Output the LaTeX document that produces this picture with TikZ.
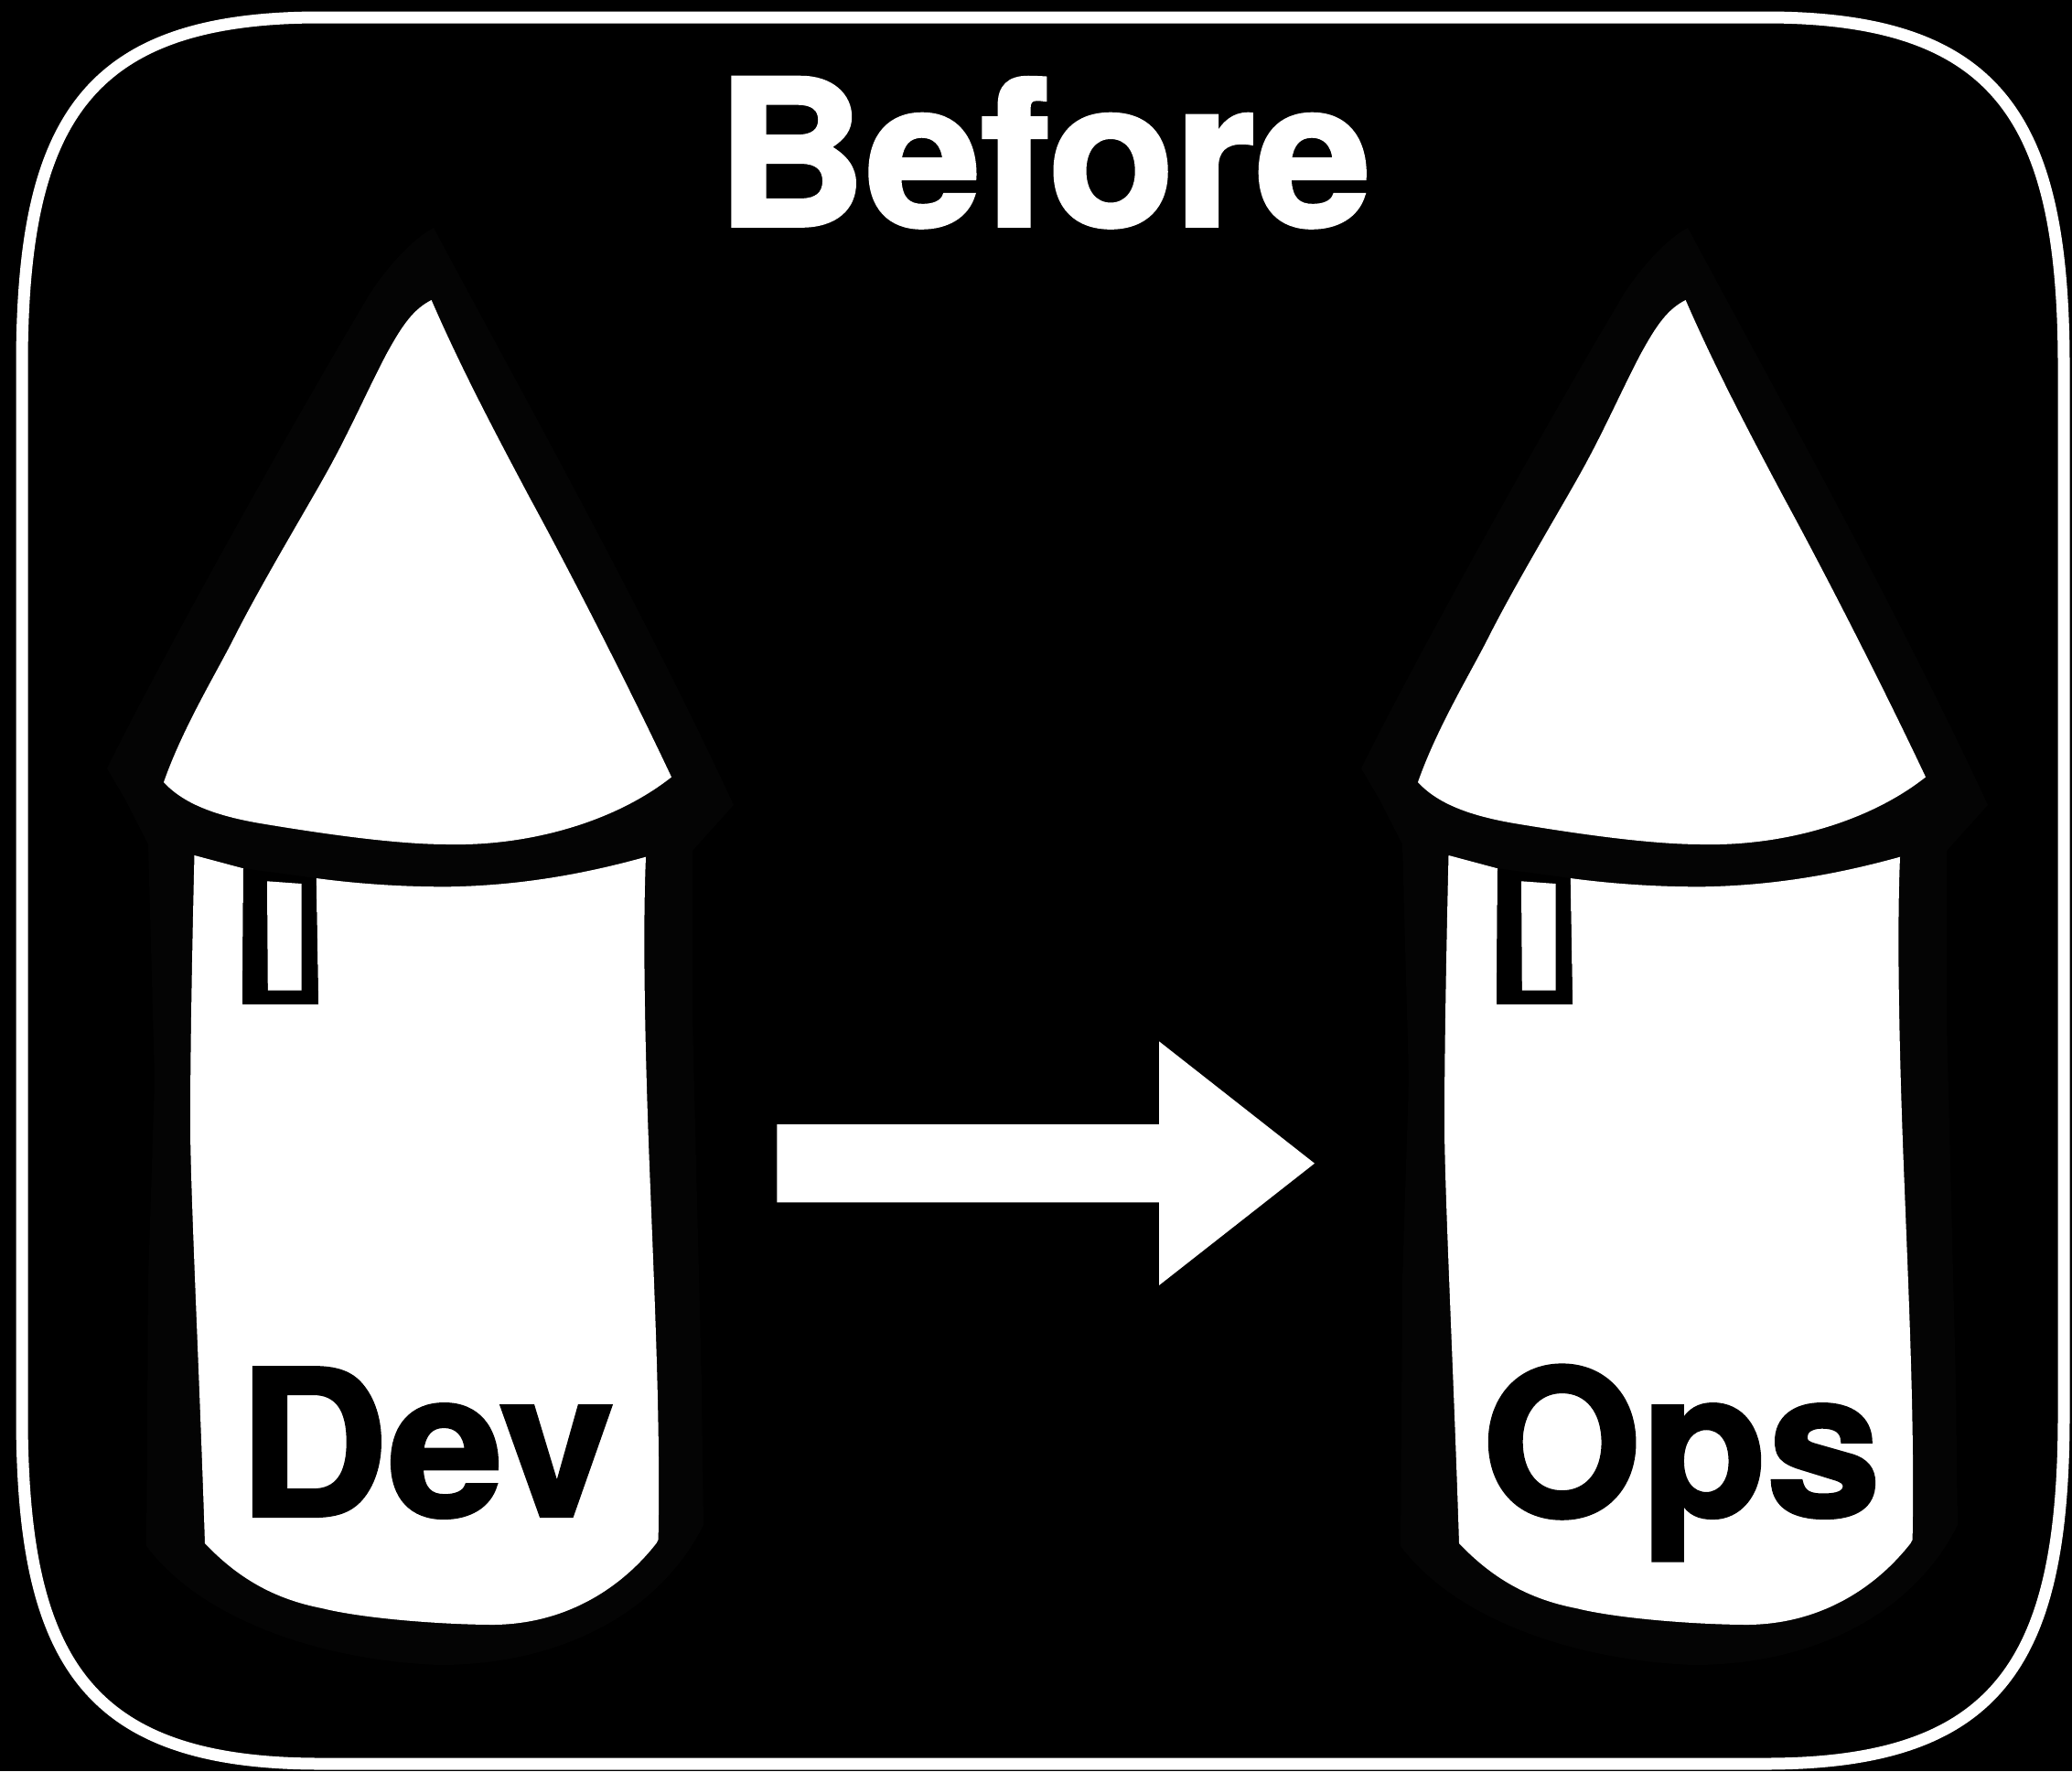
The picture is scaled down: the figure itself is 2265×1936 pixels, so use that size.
\documentclass[tikz,border=0pt]{standalone}
\usepackage{fontspec}
\setmainfont{TeX Gyre Heros}[BoldFeatures={FakeBold=1.9}]
\definecolor{halo}{HTML}{040404}
\tikzset{
  x=1pt,y=-1pt,
  halofill/.style={fill=halo,draw=none},
  whitefill/.style={fill=white,draw=none},
  blackfill/.style={fill=black,draw=none},
  frame/.style={draw=white,line width=13pt},
  titletext/.style={text=white,inner sep=0pt,anchor=base,font=\bfseries\fontsize{222}{240}\selectfont},
  towertext/.style={text=black,inner sep=0pt,anchor=base,font=\bfseries\fontsize{222}{240}\selectfont},
}
\newcommand{\towershape}{%
  \path[halofill] (117,840) .. controls (180,712) and (330,445) .. (405,320)
    .. controls (425,290) and (450,262) .. (474,249)
    .. controls (560,410) and (700,660) .. (802,880)
    -- (757,930) -- (757,1113) -- (767,1513) -- (769,1667)
    .. controls (720,1765) and (610,1820) .. (480,1820)
    .. controls (350,1815) and (220,1770) .. (160,1690)
    -- (162,1400) -- (169,1180) -- (162,923) -- (137,874) -- cycle;
  \path[whitefill] (179,855)
    .. controls (200,795) and (237,735) .. (257,695)
    .. controls (290,630) and (345,540) .. (364.5,503)
    .. controls (385,465) and (405,420) .. (422.5,387)
    .. controls (440,355) and (452,338) .. (471.6,328)
    .. controls (505,405) and (545,480) .. (579,544)
    .. controls (615,610) and (680,735) .. (734,849.4)
    .. controls (670,900) and (575,925) .. (489.5,923)
    .. controls (430,923) and (345,910) .. (288.6,900.7)
    .. controls (235,892) and (200,878) .. (179,855) -- cycle;
  \path[whitefill] (212.5,935) -- (266,949.3) -- (265,1097.7) -- (348,1097.7) -- (345.6,960)
    .. controls (390,966) and (440,969.5) .. (490,969.3)
    .. controls (570,968) and (640,955) .. (706,936.7)
    .. controls (702,1030) and (706,1180) .. (711,1300)
    .. controls (716,1430) and (722,1560) .. (719.6,1683)
    -- (717.7,1686.7)
    .. controls (680,1735) and (620,1775) .. (540,1776)
    .. controls (490,1776) and (400,1770) .. (352,1758)
    .. controls (300,1748) and (260,1725) .. (224,1687)
    .. controls (218,1500) and (208,1300) .. (208,1228)
    .. controls (208,1150) and (210,1040) .. (212.5,935)
    -- cycle;
  \path[blackfill] (266,949.3) -- (345.6,960) -- (348,1097.7) -- (265,1097.7) -- cycle;
  \path[whitefill] (292,963.3) -- (329.6,966) -- (329.6,1082.7) -- (292.8,1082.7) -- cycle;
}
\begin{document}
\begin{tikzpicture}
  \useasboundingbox (0,0) rectangle (2265,1936);
  \fill[black] (0,0) rectangle (2265,1936);
  \draw[frame] (24,400) .. controls (24,130) and (95,19) .. (350,19)
    -- (1930,19) .. controls (2185,19) and (2256,130) .. (2256,400)
    -- (2256,1547) .. controls (2256,1817) and (2185,1928) .. (1930,1928)
    -- (350,1928) .. controls (95,1928) and (24,1817) .. (24,1547) -- cycle;
  \node[titletext] (title) at (1141,246.7) {\scalebox{1.02}[1]{Before}};
  \begin{scope}
    \towershape
  \end{scope}
  \begin{scope}[xshift=1371pt]
    \towershape
  \end{scope}
  \node[towertext] (dev) at (466,1657) {\scalebox{1.02}[1]{Dev}};
  \node[towertext] (ops) at (1838,1657) {\scalebox{1.01}[1]{Ops}};
  \path[whitefill] (849.4,1229) -- (1267,1229) -- (1267,1138.3) -- (1437,1271.7) -- (1267,1405) -- (1267,1314.3) -- (849.4,1314.3) -- cycle;
\end{tikzpicture}
\end{document}
